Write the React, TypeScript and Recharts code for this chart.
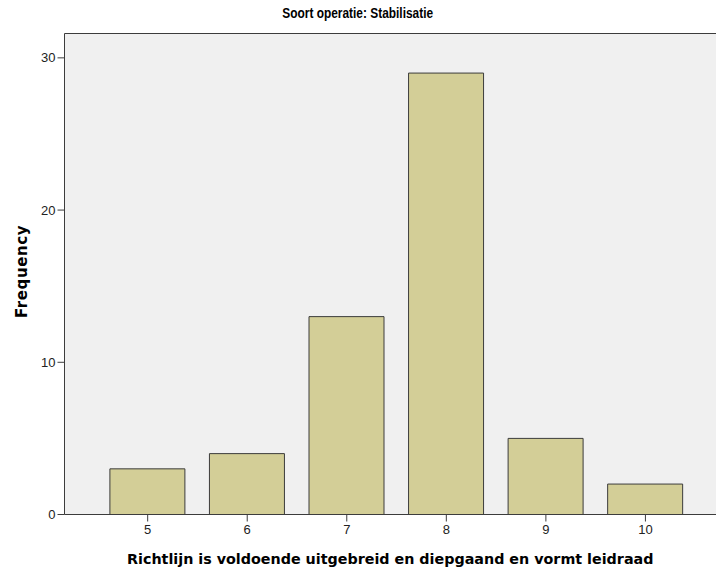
import { BarChart, Bar, XAxis, YAxis, CartesianGrid, ReferenceLine } from 'recharts';

const categories = ['5', '6', '7', '8', '9', '10'];
const frequencies = [3, 4, 13, 29, 5, 2];
const yTicks = [0, 10, 20, 30];
const yMax = 31.6;

const data = categories.map((c, i) => ({ score: c, count: frequencies[i] }));

const axisColor = '#3c3c3c';

function YTitle(props: any) {
  const vb = props.viewBox || { x: 0, y: 33.5, width: 64.5, height: 481 };
  const x = vb.x + 27;
  const y = vb.y + vb.height / 2 - 2.5;
  return (
    <text
      x={x}
      y={y}
      transform={`rotate(-90 ${x} ${y})`}
      textAnchor="middle"
      fontFamily='"DejaVu Sans", Verdana, sans-serif'
      fontWeight="bold"
      fontSize={15}
      letterSpacing={0.6}
      fill="#000"
    >
      Frequency
    </text>
  );
}

export default function App() {
  return (
    <div
      style={{
        position: 'absolute',
        left: 0,
        top: 0,
        width: 716,
        height: 570,
        background: '#fff',
        fontFamily: '"Liberation Sans", Arial, sans-serif',
      }}
    >
      <div
        style={{
          position: 'absolute',
          left: 0,
          top: 5,
          width: 716,
          textAlign: 'center',
          fontFamily: '"Liberation Sans", Arial, sans-serif',
          fontWeight: 'bold',
          fontSize: 14,
          lineHeight: '16px',
          color: '#000',
        }}
      >
        <span style={{ display: 'inline-block', transform: 'scaleX(0.85)' }}>
          Soort operatie: Stabilisatie
        </span>
      </div>
      <BarChart
        width={716}
        height={570}
        data={data}
        margin={{ top: 33.5, right: 0, bottom: 0, left: 0 }}
      >
        <CartesianGrid fill="#F0F0F0" horizontal={false} vertical={false} />
        <XAxis
          dataKey="score"
          interval={0}
          height={55.5}
          padding={{ left: 33.4, right: 20.8 }}
          tickSize={7}
          tickMargin={3}
          axisLine={{ stroke: axisColor }}
          tickLine={{ stroke: axisColor }}
          tick={{ fill: '#222', fontSize: 13 }}
          label={{
            value: 'Richtlijn is voldoende uitgebreid en diepgaand en vormt leidraad',
            position: 'insideBottom',
            offset: 6,
            fill: '#000',
            fontSize: 14.3,
            fontWeight: 'bold',
            fontFamily: '"DejaVu Sans", Verdana, sans-serif',
          }}
        />
        <YAxis
          width={64.5}
          domain={[0, yMax]}
          ticks={yTicks}
          interval={0}
          tickSize={7}
          tickMargin={2}
          axisLine={{ stroke: axisColor }}
          tickLine={{ stroke: axisColor }}
          tick={{ fill: '#222', fontSize: 13 }}
          label={<YTitle />}
        />
        <ReferenceLine y={yMax} stroke={axisColor} />
        <Bar
          dataKey="count"
          fill="#D3CE97"
          stroke={axisColor}
          strokeWidth={1}
          barSize={75}
          isAnimationActive={false}
        />
      </BarChart>
    </div>
  );
}
